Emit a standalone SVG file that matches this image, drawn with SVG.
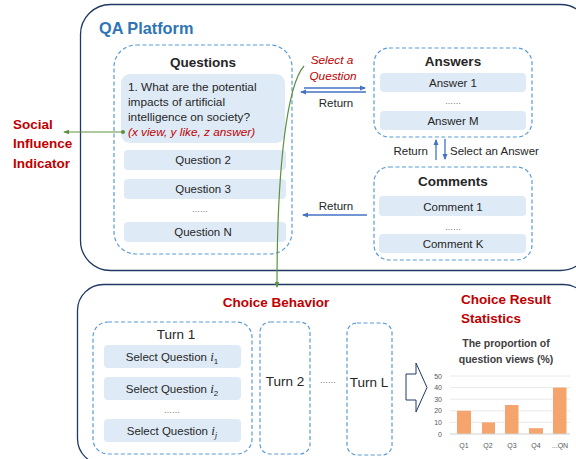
<svg xmlns="http://www.w3.org/2000/svg" width="576" height="459" viewBox="0 0 576 459">
<style>
.outer{fill:#fff;stroke:#1F3864;stroke-width:1.3}
.dash{fill:#fff;stroke:#5B9BD5;stroke-width:1.2;stroke-dasharray:4 2.5}
.item{fill:#DEEBF7}
.t{font-family:"Liberation Sans",Arial,sans-serif;fill:#262626}
.b{font-weight:bold}
.red{fill:#C00000}
.c{text-anchor:middle}
.blue{stroke:#4472C4;stroke-width:1.3;fill:none}
.green{stroke:#5E9140;stroke-width:1.2;fill:none}
.grid{stroke:#E4E4E4;stroke-width:0.8}
.bar{fill:#F4A46C}
.ax{font-family:"Liberation Sans",Arial,sans-serif;font-size:7px;fill:#595959}
</style>
<defs>
<marker id="ab" markerWidth="6" markerHeight="6" refX="5" refY="3" orient="auto" markerUnits="userSpaceOnUse">
<path d="M0,0.5 L6,3 L0,5.5 z" fill="#4472C4"/>
</marker>
<marker id="ag" markerWidth="6" markerHeight="6" refX="5" refY="3" orient="auto" markerUnits="userSpaceOnUse">
<path d="M0,0.8 L6,3 L0,5.2 z" fill="#5E9140"/>
</marker>
<marker id="dg" markerWidth="5" markerHeight="5" refX="2.5" refY="2.5" markerUnits="userSpaceOnUse">
<circle cx="2.5" cy="2.5" r="2" fill="#5E9140"/>
</marker>
</defs>

<g id="qa-platform">
<rect class="outer" x="80.5" y="4.5" width="510" height="266" rx="30"/>
<text class="t b" x="99" y="34" font-size="16.3" fill="#2E75B6" style="fill:#2E75B6">QA Platform</text>
</g>

<g id="choice-panel">
<rect class="outer" x="77.5" y="284.5" width="512" height="180" rx="26"/>
</g>

<g id="questions">
<rect class="dash" x="114" y="45" width="178" height="209" rx="22"/>
<text class="t b c" x="203" y="67" font-size="13.5">Questions</text>
<rect class="item" x="121" y="74" width="164" height="69" rx="9"/>
<text class="t" x="128" y="91" font-size="11.8">1. What are the potential</text>
<text class="t" x="128" y="106" font-size="11.8">impacts of artificial</text>
<text class="t" x="128" y="121" font-size="11.8">intelligence on society?</text>
<text class="t red" x="128" y="136" font-size="11.8" font-style="italic">(x view, y like, z answer)</text>
<rect class="item" x="124" y="150" width="162" height="20" rx="4"/>
<text class="t c" x="203" y="164" font-size="11.5">Question 2</text>
<rect class="item" x="124" y="179" width="162" height="20" rx="4"/>
<text class="t c" x="203" y="193" font-size="11.5">Question 3</text>
<text class="t c" x="200" y="212" font-size="8">……</text>
<rect class="item" x="124" y="222" width="162" height="20" rx="4"/>
<text class="t c" x="203" y="236" font-size="11.5">Question N</text>
</g>

<g id="social-indicator">
<text class="t b red" x="13" y="129" font-size="13.5">Social</text>
<text class="t b red" x="13" y="148" font-size="13.5">Influence</text>
<text class="t b red" x="13" y="168" font-size="13.5">Indicator</text>
</g>

<g id="answers">
<rect class="dash" x="374" y="48" width="158" height="89" rx="15"/>
<text class="t b c" x="453" y="66" font-size="13.5">Answers</text>
<rect class="item" x="380" y="73" width="146" height="19" rx="4"/>
<text class="t c" x="453" y="87" font-size="11.5">Answer 1</text>
<text class="t c" x="453" y="104" font-size="8">……</text>
<rect class="item" x="380" y="111" width="146" height="19" rx="4"/>
<text class="t c" x="453" y="125" font-size="11.5">Answer M</text>
</g>

<g id="comments">
<rect class="dash" x="374" y="167" width="158" height="93" rx="15"/>
<text class="t b c" x="453" y="186" font-size="13.5">Comments</text>
<rect class="item" x="379" y="196" width="147" height="20" rx="4"/>
<text class="t c" x="453" y="211" font-size="11.5">Comment 1</text>
<text class="t c" x="453" y="230" font-size="8">……</text>
<rect class="item" x="379" y="234" width="147" height="19" rx="4"/>
<text class="t c" x="453" y="248" font-size="11.5">Comment K</text>
</g>

<g id="turn-1">
<rect class="dash" x="93" y="322" width="159" height="132" rx="15"/>
<text class="t c" x="176" y="339" font-size="13.5">Turn 1</text>
<rect class="item" x="104" y="345" width="137" height="23" rx="4"/>
<text class="t c" x="172" y="361" font-size="11.5">Select Question <tspan font-family="Liberation Serif,serif" font-style="italic" font-size="13">i</tspan><tspan font-size="8" dy="3">1</tspan></text>
<rect class="item" x="104" y="377" width="137" height="23" rx="4"/>
<text class="t c" x="172" y="393" font-size="11.5">Select Question <tspan font-family="Liberation Serif,serif" font-style="italic" font-size="13">i</tspan><tspan font-size="8" dy="3">2</tspan></text>
<text class="t c" x="172" y="413" font-size="8">……</text>
<rect class="item" x="104" y="419" width="137" height="23" rx="4"/>
<text class="t c" x="172" y="435" font-size="11.5">Select Question <tspan font-family="Liberation Serif,serif" font-style="italic" font-size="13">i</tspan><tspan font-family="Liberation Serif,serif" font-style="italic" font-size="9" dy="3">j</tspan></text>
</g>

<g id="turn-2">
<rect class="dash" x="260" y="322" width="50" height="132" rx="10"/>
<text class="t c" x="285" y="386" font-size="13.5">Turn 2</text>
</g>
<text class="t c" x="328" y="383" font-size="8">……</text>
<g id="turn-l">
<rect class="dash" x="347" y="323" width="45" height="132" rx="10"/>
<text class="t c" x="369" y="387" font-size="13.5">Turn L</text>
</g>

<g id="choice-behavior-label">
<text class="t b red c" x="276" y="307" font-size="13.5">Choice Behavior</text>
</g>

<g id="result-arrow">
<path d="M406,374 L416,374 L416,363 L427,387.5 L416,412 L416,400 L406,400 Z" fill="#fff" stroke="#1F3864" stroke-width="1"/>
</g>

<g id="statistics">
<text class="t b red" x="461" y="304" font-size="13.5">Choice Result</text>
<text class="t b red" x="461" y="323" font-size="13.5">Statistics</text>
<text class="t b c" x="506" y="347" font-size="10.5" style="fill:#404040">The  proportion of</text>
<text class="t b c" x="506" y="363" font-size="10.5" style="fill:#404040">question views (%)</text>
<g>
<line class="grid" x1="450" y1="376" x2="570" y2="376"/>
<line class="grid" x1="450" y1="387.6" x2="570" y2="387.6"/>
<line class="grid" x1="450" y1="399.2" x2="570" y2="399.2"/>
<line class="grid" x1="450" y1="410.8" x2="570" y2="410.8"/>
<line class="grid" x1="450" y1="422.4" x2="570" y2="422.4"/>
<text class="ax" x="442" y="378.5" text-anchor="end">50</text>
<text class="ax" x="442" y="390" text-anchor="end">40</text>
<text class="ax" x="442" y="401.5" text-anchor="end">30</text>
<text class="ax" x="442" y="413" text-anchor="end">20</text>
<text class="ax" x="442" y="425" text-anchor="end">10</text>
<text class="ax" x="442" y="436.5" text-anchor="end">0</text>
<rect class="bar" x="457" y="410.8" width="14" height="23.2"/>
<rect class="bar" x="482" y="422.4" width="13" height="11.6"/>
<rect class="bar" x="505" y="405" width="13.5" height="29"/>
<rect class="bar" x="529" y="428.2" width="14" height="5.8"/>
<rect class="bar" x="553" y="387.6" width="13.5" height="46.4"/>
<line x1="450" y1="434" x2="570" y2="434" stroke="#D0D0D0" stroke-width="1"/>
<text class="ax" x="464" y="448" text-anchor="middle">Q1</text>
<text class="ax" x="488" y="448" text-anchor="middle">Q2</text>
<text class="ax" x="512" y="448" text-anchor="middle">Q3</text>
<text class="ax" x="536" y="448" text-anchor="middle">Q4</text>
<text class="ax" x="560" y="448" text-anchor="middle">...QN</text>
</g>
</g>

<g id="connectors">
<line class="blue" x1="304" y1="88" x2="365" y2="88" marker-end="url(#ab)"/>
<line class="blue" x1="366" y1="92" x2="301" y2="92" marker-end="url(#ab)"/>
<text class="t c" x="336" y="107" font-size="11.5">Return</text>
<text class="t red c" x="332" y="64" font-size="11.8" font-style="italic">Select a</text>
<text class="t red c" x="333" y="80" font-size="11.8" font-style="italic">Question</text>
<line class="blue" x1="436" y1="160" x2="436" y2="140" marker-end="url(#ab)"/>
<line class="blue" x1="445" y1="139" x2="445" y2="159" marker-end="url(#ab)"/>
<text class="t" x="428" y="155" font-size="11.5" text-anchor="end">Return</text>
<text class="t" x="450" y="155" font-size="11.5">Select an Answer</text>
<line class="blue" x1="367" y1="215" x2="303" y2="215" marker-end="url(#ab)"/>
<text class="t c" x="336" y="210" font-size="11.5">Return</text>
<line class="green" x1="123" y1="132" x2="64" y2="132" marker-start="url(#dg)" marker-end="url(#ag)"/>
<path class="green" d="M304,66 C288,84 277,160 277,287" marker-end="url(#ag)"/>
</g>
</svg>
